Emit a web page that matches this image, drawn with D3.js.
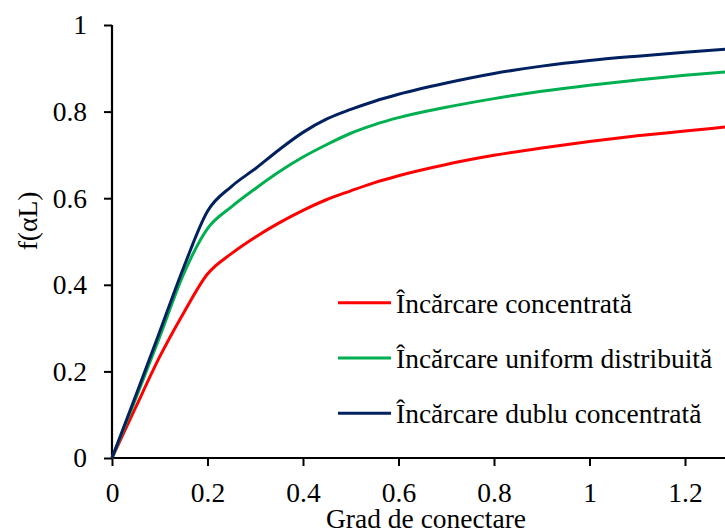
<!DOCTYPE html>
<html>
<head>
<meta charset="utf-8">
<script src="https://cdn.jsdelivr.net/npm/d3@7"></script>
<style>
  body { margin: 0; background: #fff; }
</style>
</head>
<body>
<script>
// values
var xs = [0, 0.05, 0.1, 0.15, 0.2, 0.25, 0.3, 0.35, 0.4, 0.45, 0.5, 0.55, 0.6, 0.7, 0.8, 0.9, 1.0, 1.1, 1.2, 1.3];
var concentrata = [0, 0.118, 0.234, 0.335, 0.425, 0.472, 0.51, 0.543, 0.572, 0.597, 0.617, 0.636, 0.652, 0.678, 0.699, 0.716, 0.731, 0.744, 0.755, 0.766];
var uniforma = [0, 0.138, 0.28, 0.425, 0.53, 0.58, 0.622, 0.661, 0.695, 0.724, 0.75, 0.77, 0.786, 0.81, 0.83, 0.847, 0.861, 0.873, 0.884, 0.893];
var dubla = [0, 0.145, 0.292, 0.44, 0.57, 0.627, 0.668, 0.712, 0.752, 0.783, 0.805, 0.824, 0.84, 0.866, 0.888, 0.905, 0.918, 0.928, 0.937, 0.945];

var seriesNames = ["Încărcare concentrată", "Încărcare uniform distribuită", "Încărcare dublu concentrată"];
var seriesColors = ["#ff0000", "#00b050", "#002060"];
var xTicks = [0, 0.2, 0.4, 0.6, 0.8, 1, 1.2];
var yTicks = [0, 0.2, 0.4, 0.6, 0.8, 1];

var width = 725, height = 530;
var serif = "'Liberation Serif', 'DejaVu Serif', serif";
var fs = "27.5px";

var svg = d3.select("body").append("svg")
    .attr("width", width)
    .attr("height", height)
    .style("font-family", serif);

var x = d3.scaleLinear().domain([0, 1.4]).range([112, 780.5]);
var y = d3.scaleLinear().domain([0, 1]).range([458, 25]);

// axes
var xAxis = svg.append("g")
    .attr("transform", "translate(0," + y(0) + ")")
    .call(d3.axisBottom(x).tickValues(xTicks).tickSize(8).tickPadding(16)
        .tickFormat(function(d){ return d3.format("~g")(d); }));

var yAxis = svg.append("g")
    .attr("transform", "translate(" + x(0) + ",0)")
    .call(d3.axisLeft(y).tickValues(yTicks).tickSize(8).tickPadding(17)
        .tickFormat(function(d){ return d3.format("~g")(d); }));

xAxis.attr("font-family", null);
yAxis.attr("font-family", null);
svg.selectAll(".domain").attr("stroke", "#000").attr("stroke-width", 2.2);
svg.selectAll(".tick line").attr("stroke", "#000").attr("stroke-width", 2);
svg.selectAll(".tick text")
    .attr("fill", "#000")
    .style("font-family", serif)
    .style("font-size", fs);
// domain paths without the end caps
xAxis.select(".domain").attr("d", "M" + x(0) + ",0H" + x(1.4));
yAxis.select(".domain").attr("d", "M0," + y(0) + "V" + y(1));

// curves
var all = [concentrata, uniforma, dubla];
var line = d3.line()
    .x(function(d, i){ return x(xs[i]); })
    .y(function(d){ return y(d); })
    .curve(d3.curveMonotoneX);

svg.append("g").selectAll("path")
    .data(all)
    .enter().append("path")
    .attr("d", line)
    .attr("fill", "none")
    .attr("stroke", function(d, i){ return seriesColors[i]; })
    .attr("stroke-width", 3)
    .attr("stroke-linejoin", "round");

// legend
var legend = svg.append("g").attr("transform", "translate(338,302.7)");
var items = legend.selectAll("g")
    .data(seriesNames)
    .enter().append("g")
    .attr("transform", function(d, i){ return "translate(0," + (i * 55.3) + ")"; });

items.append("line")
    .attr("x1", 0).attr("x2", 53)
    .attr("stroke", function(d, i){ return seriesColors[i]; })
    .attr("stroke-width", 3);

items.append("text")
    .attr("x", 58)
    .attr("y", 10)
    .style("font-size", fs)
    .attr("fill", "#000")
    .text(function(d){ return d; });

// axis titles
svg.append("text")
    .attr("x", 426)
    .attr("y", 528)
    .attr("text-anchor", "middle")
    .style("font-size", fs)
    .text("Grad de conectare");

svg.append("text")
    .attr("transform", "translate(37,221) rotate(-90)")
    .attr("text-anchor", "middle")
    .style("font-size", fs)
    .text("f(αL)");
</script>
</body>
</html>
